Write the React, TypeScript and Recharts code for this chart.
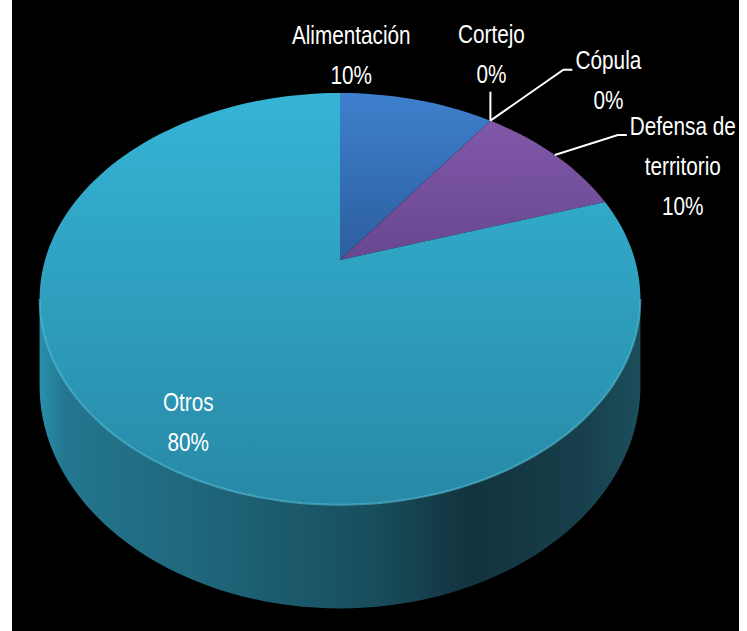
import React from "react";
import { PieChart, Pie, Cell } from "recharts";

// data
const categories = ["Alimentación", "Cortejo", "Cópula", "Defensa de territorio", "Otros"];
const shares = [10, 0, 0, 10, 80];

// top face gradient [top, bottom] for each slice
const sliceColors = [
  ["#3E80CD", "#2C5E9E"],
  ["#C0504D", "#9C3B38"],
  ["#9BBB59", "#7A9A40"],
  ["#8058A9", "#69478F"],
  ["#35B4D6", "#2889A6"],
];

const chartData = categories.map((name, i) => ({ name, value: shares[i] }));

// fake perspective for the 3d look
const K = 0.189;
const Y_SCALE = 0.673;
const DEPTH = 84;
const FRONT_FROM = -180 + (Math.asin(K) * 180) / Math.PI;
const FRONT_TO = -(Math.asin(K) * 180) / Math.PI;

function project(cx: number, cy: number, r: number, deg: number) {
  const t = (deg * Math.PI) / 180;
  const s = Math.sin(t);
  const den = 1 + K * s;
  return { x: cx + (r * Math.cos(t)) / den, y: cy - (r * Y_SCALE * s) / den, drop: DEPTH / den };
}

function rimPoints(cx: number, cy: number, r: number, from: number, to: number) {
  const n = Math.max(2, Math.ceil(Math.abs(to - from) / 2));
  const pts = [];
  for (let i = 0; i <= n; i++) {
    pts.push(project(cx, cy, r, from + ((to - from) * i) / n));
  }
  return pts;
}

function frontRange(a: number, b: number): [number, number] | null {
  const lo = Math.min(a, b);
  const hi = Math.max(a, b);
  for (const off of [-360, 0, 360]) {
    const f = Math.max(lo, FRONT_FROM + off);
    const t = Math.min(hi, FRONT_TO + off);
    if (t > f) return [f, t];
  }
  return null;
}

const SliceShape = (props: any) => {
  const { cx, cy, outerRadius, startAngle, endAngle, index } = props;
  if (Math.abs(endAngle - startAngle) < 0.01) return <g />;
  const i = index ?? 0;
  const top = rimPoints(cx, cy, outerRadius, startAngle, endAngle);
  const topPath =
    `M${cx},${cy} ` + top.map((p) => `L${p.x.toFixed(2)},${p.y.toFixed(2)}`).join(" ") + " Z";
  const front = frontRange(startAngle, endAngle);
  let sidePath = "";
  let rimPath = "";
  if (front) {
    const pts = rimPoints(cx, cy, outerRadius, front[0], front[1]);
    sidePath =
      pts.map((p, j) => `${j === 0 ? "M" : "L"}${p.x.toFixed(2)},${p.y.toFixed(2)}`).join(" ") +
      " " +
      pts
        .slice()
        .reverse()
        .map((p) => `L${p.x.toFixed(2)},${(p.y + p.drop).toFixed(2)}`)
        .join(" ") +
      " Z";
    rimPath = pts.map((p, j) => `${j === 0 ? "M" : "L"}${p.x.toFixed(2)},${p.y.toFixed(2)}`).join(" ");
  }
  return (
    <g>
      <defs>
        <linearGradient id={`top-${i}`} x1="0" y1="0" x2="0" y2="1">
          <stop offset="0%" stopColor={sliceColors[i][0]} />
          <stop offset="100%" stopColor={sliceColors[i][1]} />
        </linearGradient>
        <linearGradient id={`side-${i}`} gradientUnits="userSpaceOnUse" x1={cx - 300} y1="0" x2={cx + 300} y2="0">
          <stop offset="0%" stopColor="#2A8FAD" />
          <stop offset="4%" stopColor="#23778F" />
          <stop offset="30%" stopColor="#1E6478" />
          <stop offset="55%" stopColor="#184E5D" />
          <stop offset="72%" stopColor="#12333E" />
          <stop offset="90%" stopColor="#173F4B" />
          <stop offset="100%" stopColor="#1C4E5C" />
        </linearGradient>
      </defs>
      {sidePath && <path d={sidePath} fill={`url(#side-${i})`} />}
      <path d={topPath} fill={`url(#top-${i})`} />
      {rimPath && <path d={rimPath} fill="none" stroke="#5CCBE6" strokeOpacity={0.55} strokeWidth={2} />}
    </g>
  );
};

// label offsets from the slice's rim midpoint
const labelLayout = [
  { tx: -66, ty: -65, leader: [] as number[][] },
  { tx: 1, ty: -86, leader: [[0, -29]] },
  { tx: 118, ty: -60, leader: [[73, -51], [82, -51]] },
  { tx: 128, ty: -29, leader: [[63, -20], [72, -20]] },
  { tx: 53, ty: -47, leader: [] as number[][] },
];

function wrap(text: string, max: number) {
  const lines: string[] = [];
  let cur = "";
  for (const w of text.split(" ")) {
    if (cur && (cur + " " + w).length > max) {
      lines.push(cur);
      cur = w;
    } else {
      cur = cur ? cur + " " + w : w;
    }
  }
  if (cur) lines.push(cur);
  return lines;
}

const renderLabel = (props: any) => {
  const { cx, cy, outerRadius, midAngle, percent, name, index } = props;
  const layout = labelLayout[index];
  if (!layout) return null;
  const rim = project(cx, cy, outerRadius, midAngle);
  const lines = [...wrap(String(name), 10), `${Math.round(percent * 100)}%`];
  const leader = layout.leader.length
    ? `M${rim.x},${rim.y} ` + layout.leader.map(([dx, dy]) => `L${rim.x + dx},${rim.y + dy}`).join(" ")
    : "";
  return (
    <g key={`lbl-${index}`}>
      {leader && <path d={leader} fill="none" stroke="#FFFFFF" strokeWidth={2} />}
      <g transform={`translate(${rim.x + layout.tx},${rim.y + layout.ty}) scale(0.83,1)`}>
        <text
          x={0}
          y={0}
          fill="#FFFFFF"
          textAnchor="middle"
          dominantBaseline="central"
          fontSize={25}
          fontFamily="'Liberation Sans', Arial, sans-serif"
        >
          {lines.map((l, j) => (
            <tspan key={j} x={0} dy={j === 0 ? 0 : 40}>
              {l}
            </tspan>
          ))}
        </text>
      </g>
    </g>
  );
};

export default function App() {
  return (
    <div style={{ marginLeft: 12, width: 727, height: 631, background: "#000000" }}>
      <style>{"body{margin:0}"}</style>
      <PieChart width={727} height={631} margin={{ top: 0, right: 0, bottom: 0, left: 0 }}>
        <Pie
          data={chartData}
          dataKey="value"
          nameKey="name"
          cx={328}
          cy={260}
          outerRadius={295}
          startAngle={90}
          endAngle={-270}
          shape={SliceShape}
          label={renderLabel}
          labelLine={false}
          isAnimationActive={false}
        >
          {chartData.map((d, i) => (
            <Cell key={d.name} fill={sliceColors[i][0]} />
          ))}
        </Pie>
      </PieChart>
    </div>
  );
}
